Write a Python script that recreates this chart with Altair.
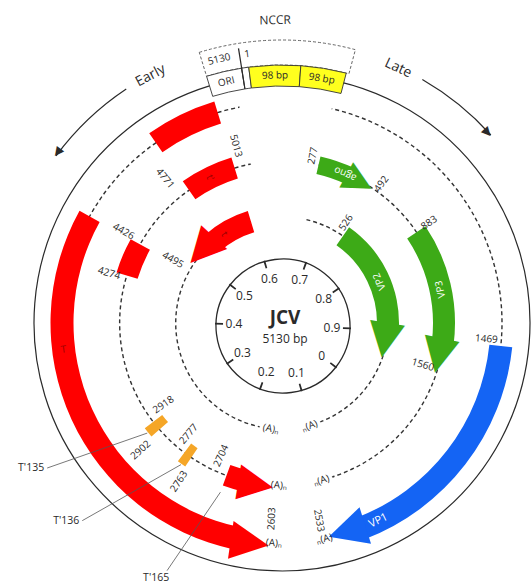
import math
import numpy as np
import pandas as pd
import altair as alt

# ------------------------------------------------------------------
# JC polyomavirus (JCV, 5130 bp): early and late transcript map
# ------------------------------------------------------------------

# coding stretches drawn as bands on the three tracks (bp, Mad-1 numbering)
FEAT_NAME = ["T exon 1", "T exon 2", "t' exon 1", "T' exon 2", "T'135 exon", "T'136 exon",
             "T' last exon", "t", "agno", "VP2", "VP3", "VP1"]
FEAT_RING = ["outer", "outer", "middle", "middle", "middle", "middle",
             "middle", "inner", "middle", "inner", "middle", "outer"]
FEAT_START = [5013, 4426, 5013, 4426, 2918, 2777, 2704, 5013, 277, 526, 883, 1469]
FEAT_END = [4771, 2603, 4771, 4274, 2902, 2763, 2603, 4495, 492, 1560, 1560, 2533]
FEAT_CLASS = ["early", "early", "early", "early", "alt", "alt", "early", "early",
              "late", "late", "late", "major late"]
FEAT_ARROW = [False, True, False, False, False, False, True, True, True, True, True, True]

# track stretches without transcript (positions before 1 written as negatives)
GAP_RING = ["outer", "outer", "middle", "middle", "inner", "inner"]
GAP_START = [-30, 2533, -30, 2468, -117, 2419]
GAP_END = [277, 2603, 277, 2603, 277, 2650]

# polyadenylation ends of the transcripts
POLYA_RING = ["outer", "middle", "inner", "outer", "middle", "inner"]
POLYA_SITE = [2603, 2603, 2650, 2533, 2468, 2419]
POLYA_SIDE = ["early", "early", "early", "late", "late", "late"]

# splice / start / stop coordinates written on the map
EARLY_SITES = [5013, 4771, 4426, 4274, 4495, 2918, 2902, 2777, 2763, 2704, 2603]
LATE_SITES = [2533, 1560, 1469, 883, 526, 492, 277]

# band captions
BAND_TEXT = ["T", "t'", "t", "agno", "VP2", "VP3", "VP1"]
BAND_TEXT_RING = ["outer", "middle", "inner", "middle", "inner", "middle", "outer"]

# alternative T' exons with call-out labels
TPRIME_TEXT = ["T'135", "T'136", "T'165"]
TPRIME_SITE = [2910, 2770, 2704]

# non-coding control region (ORI + two 98-bp repeats)
NCCR_TEXT = ["ORI", "", "98 bp", "98 bp"]
NCCR_START = [-117, 0, 20, 166]
NCCR_END = [0, 20, 166, 293]
NCCR_FILL = ["white", "white", "#FFFF1E", "#FFFF1E"]

# direction of early / late transcription
DIR_TEXT = ["Early", "Late"]
DIR_FROM = [4789, 469]
DIR_TO = [4502, 747]

# map-unit dial in the centre
MU_TICK = [0.0, 0.1, 0.2, 0.3, 0.4, 0.5, 0.6, 0.7, 0.8, 0.9]
MU_LABEL = ["0", "0.1", "0.2", "0.3", "0.4", "0.5", "0.6", "0.7", "0.8", "0.9"]

# ------------------------------------------------------------------
# layout
# ------------------------------------------------------------------
W, H = 531, 585
CX, CY = 282, 323            # centre of the genome tracks
SX, SY = 283, 326            # centre of the map-unit dial
R_GENOME = 248
R_DIAL = 67
RING_R = {"outer": 220, "middle": 162, "inner": 106}
BAND_W = {"outer": 23, "middle": 22, "inner": 22}
NARROW_BAND = {"agno": 18}
HEAD_LEN = {"outer": 26, "middle": 24, "inner": 24}
HEAD_FONT = {"outer": 50, "middle": 46, "inner": 46}
FONT = "Open Sans"
INK = "#2a2a2a"
FEAT_COLOR = {"early": "#FF0000", "alt": "#F5A627", "late": "#3DAA17", "major late": "#1464F4"}

# schematic (not to scale) bp -> angle of the drawing, degrees clockwise from 12 o'clock
MAP_BP = [-117, 0, 277, 526, 883, 1469, 1560, 2533, 2603, 2704, 2763, 2777, 2902, 2918,
          4274, 4426, 4495, 4771, 5013, 5130]
MAP_DEG = [-17, -9, 13, 35, 56, 96, 106, 166, 185, 200, 214, 217, 229, 232.5,
           287, 299, 306, 325, 343, 351]

# label placement: angular shift (deg) from the site and radius (px)
SITE_LABEL_POS = {
    5013: (2.4, 183), 4771: (-4, 186), 4426: (1, 183), 4274: (-1, 180), 4495: (-6, 126),
    2918: (2.9, 144), 2902: (-1, 190), 2777: (3, 145), 2763: (-1, 189), 2704: (4.6, 146),
    2603: (-2, 196), 2533: (3.4, 201), 1560: (0.6, 147), 1469: (-1.5, 205), 883: (-0.2, 178),
    526: (-2.4, 119), 492: (3.6, 171), 277: (-2.5, 170),
}
BAND_TEXT_DEG = {"T": 263, "t'": 333.6, "t": 327, "agno": 23, "VP2": 67, "VP3": 78, "VP1": 154}
# call-out: label angle, label radius, radius where the leader meets the exon
TPRIME_POS = {"T'135": (238.3, 276, 174), "T'136": (225.3, 281, 174), "T'165": (206.3, 284, 180)}
NCCR_TEXT_POS = {"NCCR": (-1.3, 303), "5130": (-13.4, 271), "1": (-7.4, 271)}
DIR_TEXT_DEG = {"Early": 332, "Late": 24.5}
R_DIR = 281

RAD = math.pi / 180.0


def deg_of(bp):
    return float(np.interp(bp, MAP_BP, MAP_DEG))


def bp_of(deg):
    return float(np.interp(deg, MAP_DEG, MAP_BP))


def theta_scale():
    return alt.Scale(domain=MAP_BP, range=[d * RAD for d in MAP_DEG], zero=False, nice=False)


def turn_scale(offset):
    return alt.Scale(domain=MAP_BP, range=[d + offset for d in MAP_DEG], zero=False, nice=False)


def at_center(cx=CX, cy=CY):
    return dict(x=alt.value(cx), y=alt.value(cy))


def arc_layer(df, scale=None, fill_field=False, cx=CX, cy=CY, **mark):
    enc = dict(
        theta=alt.Theta("a:Q", scale=scale if scale is not None else theta_scale()),
        theta2="b:Q",
        radius=alt.Radius("r1:Q", scale=None),
        radius2="r2:Q",
        **at_center(cx, cy),
    )
    if fill_field:
        enc["fill"] = alt.Fill("col:N", scale=None, legend=None)
    return alt.Chart(df).mark_arc(**mark).encode(**enc)


def text_layer(df, turn=None, scale=None, color_field=False, size_field=False, cx=CX, cy=CY, **mark):
    enc = dict(
        theta=alt.Theta("a:Q", scale=scale if scale is not None else theta_scale(), stack=False),
        radius=alt.Radius("r:Q", scale=None),
        text=alt.Text("label:N"),
        **at_center(cx, cy),
    )
    if turn is not None:
        enc["angle"] = alt.Angle("a:Q", scale=turn_scale(turn), legend=None)
    if color_field:
        enc["color"] = alt.Color("col:N", scale=None, legend=None)
    if size_field:
        enc["size"] = alt.Size("fs:Q", scale=None, legend=None)
    return alt.Chart(df).mark_text(**mark).encode(**enc)


def polar_xy(deg, r):
    return CX + r * math.sin(deg * RAD), CY - r * math.cos(deg * RAD)


layers = []

# outer genome circle
layers.append(arc_layer(pd.DataFrame([dict(a=-117, b=5013, r1=R_GENOME, r2=0)]),
                        fillOpacity=0, stroke=INK, strokeWidth=1.2))

# dashed transcript tracks, then blank stretches knocked out
layers.append(arc_layer(pd.DataFrame([dict(a=-117, b=5013, r1=RING_R[k], r2=0) for k in RING_R]),
                        fillOpacity=0, stroke="#333333", strokeWidth=1.4, strokeDash=[4, 3]))
layers.append(arc_layer(pd.DataFrame([dict(a=s, b=e, r1=RING_R[k] + 3, r2=RING_R[k] - 3)
                                      for k, s, e in zip(GAP_RING, GAP_START, GAP_END)]),
                        fill="white", stroke="white", strokeWidth=0.5))

# NCCR: dashed frame, boxes, 5130|1 divider
layers.append(arc_layer(pd.DataFrame([dict(a=-117, b=300, r1=283, r2=258)]),
                        fillOpacity=0, stroke="#555555", strokeWidth=0.9, strokeDash=[3, 2]))
layers.append(arc_layer(pd.DataFrame([dict(a=s, b=e, r1=258, r2=237, col=c)
                                      for s, e, c in zip(NCCR_START, NCCR_END, NCCR_FILL)]),
                        fill_field=True, stroke="#333333", strokeWidth=0.9))
half = 0.6 / 260 / RAD
layers.append(arc_layer(pd.DataFrame([dict(a=bp_of(deg_of(0) - half), b=bp_of(deg_of(0) + half),
                                           r1=278, r2=237)]), fill=INK))
nccr_lab = [dict(a=bp_of(deg_of((s + e) / 2)), r=247.5, label=t)
            for t, s, e in zip(NCCR_TEXT, NCCR_START, NCCR_END) if t]
nccr_lab += [dict(a=bp_of(d), r=r, label=t) for t, (d, r) in NCCR_TEXT_POS.items()]
nccr_df = pd.DataFrame(nccr_lab)
layers.append(text_layer(nccr_df[nccr_df.label != "NCCR"], turn=0, font=FONT, fontSize=10,
                         color=INK, align="center", baseline="middle"))
layers.append(text_layer(nccr_df[nccr_df.label == "NCCR"], turn=0, font=FONT, fontSize=12,
                         color=INK, align="center", baseline="middle"))

# Early / Late direction arrows
dir_rows, dir_heads_cw, dir_heads_ccw, dir_lab = [], [], [], []
for t, s, e in zip(DIR_TEXT, DIR_FROM, DIR_TO):
    dir_rows.append(dict(a=s, b=e, r1=R_DIR + 0.6, r2=R_DIR - 0.6))
    step = 1 if e > s else -1
    head = dict(a=bp_of(deg_of(e) - step * 4 / R_DIR / RAD), r=R_DIR, label="\u25B6")
    (dir_heads_cw if step > 0 else dir_heads_ccw).append(head)
    dir_lab.append(dict(a=bp_of(DIR_TEXT_DEG[t]), r=R_DIR - 1, label=t))
layers.append(arc_layer(pd.DataFrame(dir_rows), fill=INK))
layers.append(text_layer(pd.DataFrame(dir_heads_cw), turn=0, font="DejaVu Sans", fontSize=12,
                         color=INK, align="center", baseline="middle"))
layers.append(text_layer(pd.DataFrame(dir_heads_ccw), turn=180, font="DejaVu Sans", fontSize=12,
                         color=INK, align="center", baseline="middle"))
layers.append(text_layer(pd.DataFrame(dir_lab), turn=0, font=FONT, fontSize=14,
                         color=INK, align="center", baseline="middle"))

# coding bands with arrowheads
bands, heads_cw, heads_ccw = [], [], []
for name, ring, s, e, cls, arrow in zip(FEAT_NAME, FEAT_RING, FEAT_START, FEAT_END,
                                        FEAT_CLASS, FEAT_ARROW):
    r = RING_R[ring]
    w = NARROW_BAND.get(name, BAND_W[ring])
    col = FEAT_COLOR[cls]
    end = e
    if arrow:
        step = 1 if e > s else -1
        length = HEAD_LEN[ring] * w / BAND_W[ring]
        end = bp_of(deg_of(e) - step * length / r / RAD)
        head = dict(a=bp_of(deg_of(e) - step * 0.5 * length / r / RAD), r=r,
                    label="\u25B6", col=col, fs=HEAD_FONT[ring] * w / BAND_W[ring])
        (heads_cw if step > 0 else heads_ccw).append(head)
    bands.append(dict(a=s, b=end, r1=r + w / 2, r2=r - w / 2, col=col))
layers.append(arc_layer(pd.DataFrame(bands), fill_field=True))
layers.append(text_layer(pd.DataFrame(heads_cw), turn=0, color_field=True, size_field=True,
                         font="DejaVu Sans", align="center", baseline="middle"))
layers.append(text_layer(pd.DataFrame(heads_ccw), turn=180, color_field=True, size_field=True,
                         font="DejaVu Sans", align="center", baseline="middle"))

# map-unit dial
MU = alt.Scale(domain=[0, 1], range=[128 * RAD, 488 * RAD], zero=False, nice=False)
layers.append(arc_layer(pd.DataFrame([dict(a=0, b=1, r1=R_DIAL, r2=0)]), scale=MU, cx=SX, cy=SY,
                        fillOpacity=0, stroke=INK, strokeWidth=1.3))
layers.append(arc_layer(pd.DataFrame([dict(a=k - 0.0022, b=k + 0.0022, r1=R_DIAL + 1, r2=R_DIAL - 7)
                                      for k in MU_TICK]), scale=MU, cx=SX, cy=SY, fill=INK))
layers.append(text_layer(pd.DataFrame([dict(a=k, r=49, label=t) for k, t in zip(MU_TICK, MU_LABEL)]),
                         scale=MU, cx=SX, cy=SY, font=FONT, fontSize=12, color=INK,
                         align="center", baseline="middle"))
layers.append(alt.Chart(pd.DataFrame([dict(label="JCV")])).mark_text(
    font=FONT, fontSize=19, fontWeight="bold", color=INK, align="center", baseline="middle"
).encode(x=alt.value(SX + 2), y=alt.value(SY - 8), text="label:N"))
layers.append(alt.Chart(pd.DataFrame([dict(label="5130 bp")])).mark_text(
    font=FONT, fontSize=12, color=INK, align="center", baseline="middle"
).encode(x=alt.value(SX + 2), y=alt.value(SY + 13), text="label:N"))

# site numbers (radial)
def site_rows(sites):
    rows = []
    for s in sites:
        shift, r = SITE_LABEL_POS[s]
        rows.append(dict(a=bp_of(deg_of(s) + shift), r=r, label=str(s)))
    return pd.DataFrame(rows)

layers.append(text_layer(site_rows(EARLY_SITES), turn=90, font=FONT, fontSize=10, color=INK,
                         align="center", baseline="middle"))
layers.append(text_layer(site_rows(LATE_SITES), turn=270, font=FONT, fontSize=10, color=INK,
                         align="center", baseline="middle"))

# band captions
late_caps = [dict(a=bp_of(BAND_TEXT_DEG[t]), r=RING_R[k], label=t,
                  fs=11 if t == "VP1" else 10)
             for t, k in zip(BAND_TEXT, BAND_TEXT_RING) if t in ("agno", "VP2", "VP3", "VP1")]
early_caps = [dict(a=bp_of(BAND_TEXT_DEG[t]), r=RING_R[k], label=t)
              for t, k in zip(BAND_TEXT, BAND_TEXT_RING) if t in ("T", "t'", "t")]
layers.append(text_layer(pd.DataFrame(late_caps), turn=180, size_field=True, font=FONT,
                         color="white", align="center", baseline="middle"))
layers.append(text_layer(pd.DataFrame(early_caps), turn=90, font=FONT, fontSize=10,
                         color="#9a0000", align="center", baseline="middle"))

# poly(A) ends
pa = pd.DataFrame([dict(a=s, r=RING_R[k], side=sd,
                        label="(A)\u2099" if sd == "early" else "\u2099(A)")
                   for k, s, sd in zip(POLYA_RING, POLYA_SITE, POLYA_SIDE)])
layers.append(text_layer(pa[pa.side == "early"], turn=180, font=FONT, fontSize=10, color=INK,
                         align="left", baseline="middle", dx=3))
layers.append(text_layer(pa[pa.side == "late"], turn=180, font=FONT, fontSize=10, color=INK,
                         align="right", baseline="middle", dx=-3))

# T' call-outs
lines, tlabs = [], []
for t, site in zip(TPRIME_TEXT, TPRIME_SITE):
    d, r_lab, r_end = TPRIME_POS[t]
    if t == "T'165":
        x1, y1 = polar_xy(d - 1.4, r_lab - 11)
        tlabs.append(dict(a=bp_of(d), r=r_lab, label=t, side="below"))
    else:
        x1, y1 = polar_xy(d, r_lab)
        tlabs.append(dict(a=bp_of(d), r=r_lab, label=t, side="left"))
    x2, y2 = polar_xy(deg_of(site), r_end)
    lines.append(dict(x1=x1, y1=y1, x2=x2, y2=y2))
layers.append(alt.Chart(pd.DataFrame(lines)).mark_rule(color="#555555", strokeWidth=0.8).encode(
    x=alt.X("x1:Q", scale=None, axis=None), y=alt.Y("y1:Q", scale=None, axis=None),
    x2="x2:Q", y2="y2:Q"))
tl = pd.DataFrame(tlabs)
layers.append(text_layer(tl[tl.side == "left"], font=FONT, fontSize=10.5, color=INK,
                         align="right", baseline="middle", dx=-3))
layers.append(text_layer(tl[tl.side == "below"], font=FONT, fontSize=10.5, color=INK,
                         align="center", baseline="middle"))

chart = alt.layer(*layers).resolve_scale(theta="independent", angle="independent").properties(
    width=W, height=H, autosize=alt.AutoSizeParams(type="none"), padding=0,
    background="white"
).configure_view(stroke=None)

chart.save("out.html", embed_options={"renderer": "svg", "actions": False})
